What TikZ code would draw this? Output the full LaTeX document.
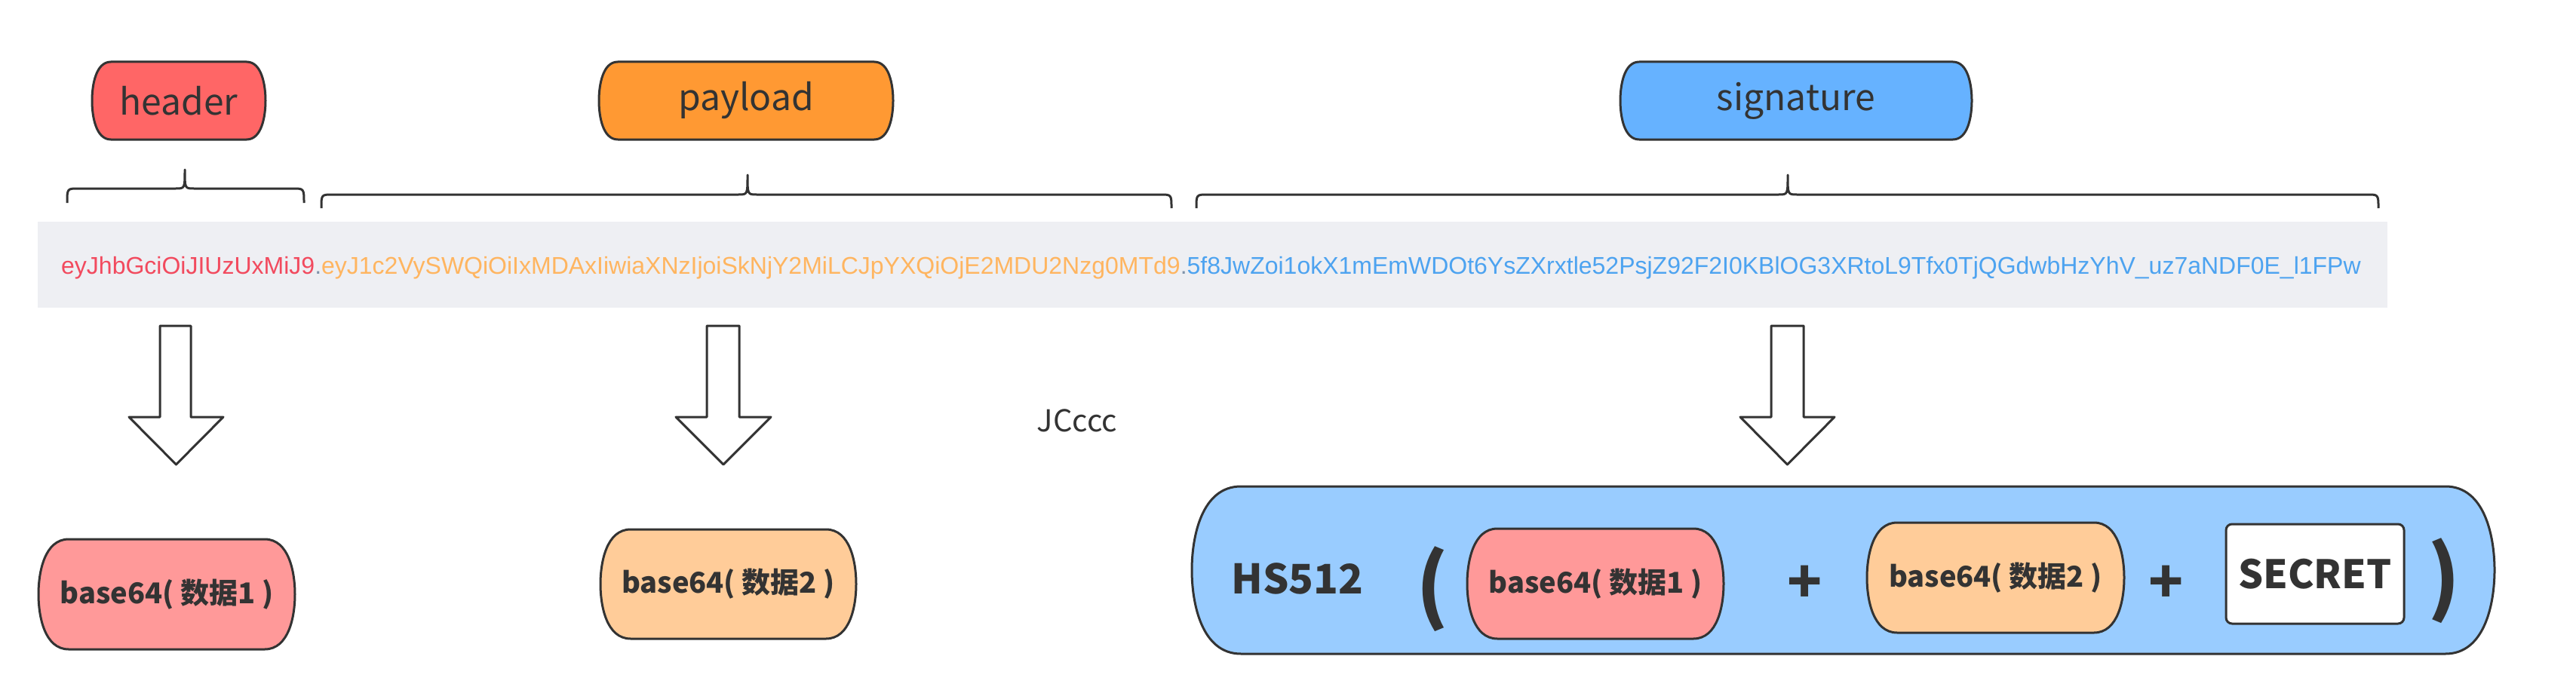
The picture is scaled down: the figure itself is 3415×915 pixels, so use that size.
\documentclass[tikz,border=0pt]{standalone}
\usepackage{fontspec}
\setmainfont{Liberation Sans}
\newfontfamily\cjk{Noto Sans CJK SC}
\usetikzlibrary{calc,backgrounds}
\definecolor{dk}{HTML}{333333}
\definecolor{bandc}{HTML}{EEEFF3}
\definecolor{tokred}{HTML}{F24A5E}
\definecolor{tokor}{HTML}{FFB560}
\definecolor{tokbl}{HTML}{4DA3F0}
\definecolor{dotc}{HTML}{7F93AA}
\definecolor{hdrc}{HTML}{FF6666}
\definecolor{payc}{HTML}{FF9933}
\definecolor{sigc}{HTML}{66B2FF}
\definecolor{pinkc}{HTML}{FF9999}
\definecolor{peachc}{HTML}{FFCC99}
\definecolor{bluec}{HTML}{99CCFF}
\tikzset{
  bline/.style={draw=dk, line width=3pt, line join=round},
  boxn/.style={outer sep=0pt, inner sep=0pt, text=dk},
  lbltext/.style={font=\cjk\fontsize{48}{56}\selectfont},
  btext/.style={font=\cjk\bfseries\fontsize{38}{44}\selectfont},
  bigtext/.style={font=\cjk\bfseries\fontsize{54}{60}\selectfont, text=dk},
}
\newcommand\barrel[3]{%
  \draw[bline,fill=#2] ([xshift=#3]#1.north west) -- ([xshift=-#3]#1.north east)
    .. controls ([xshift=-0.2*#3]#1.north east) and ($(#1.north east)!0.6!(#1.east)$) .. (#1.east)
    .. controls ($(#1.south east)!0.6!(#1.east)$) and ([xshift=-0.2*#3]#1.south east) .. ([xshift=-#3]#1.south east)
    -- ([xshift=#3]#1.south west)
    .. controls ([xshift=0.2*#3]#1.south west) and ($(#1.south west)!0.6!(#1.west)$) .. (#1.west)
    .. controls ($(#1.north west)!0.6!(#1.west)$) and ([xshift=0.2*#3]#1.north west) .. cycle;}
\newcommand\hollowarrow[4]{% shaft left, shaft right, head left, head right ; tip x = middle
  \draw[bline,fill=white] (#1,432) -- (#2,432) -- (#2,553) -- (#4,553)
    -- ({(#3+#4)/2},616) -- (#3,553) -- (#1,553) -- cycle;}
\begin{document}
\begin{tikzpicture}[x=1pt,y=-1pt]
\useasboundingbox (0,0) rectangle (3415,915);

% top labels
\node[boxn,lbltext,minimum width=230,minimum height=103] (hdr) at (237,133.5) {header};
\node[boxn,lbltext,minimum width=390,minimum height=103] (pay) at (989,133.5) {payload};
\node[boxn,lbltext,minimum width=466,minimum height=103] (sig) at (2381,133.5) {signature};

% token band
\node[boxn,fill=bandc,minimum width=3115,minimum height=114] (band) at (1607.5,351) {};
\node[anchor=base west,inner sep=0pt,font=\fontsize{32}{38}\selectfont] (tok) at (81,363)
  {\textcolor{tokred}{eyJhbGciOiJIUzUxMiJ9}\textcolor{dotc}{.}\textcolor{tokor}{eyJ1c2VySWQiOiIxMDAxIiwiaXNzIjoiSkNjY2MiLCJpYXQiOjE2MDU2Nzg0MTd9}\textcolor{dotc}{.}\textcolor{tokbl}{5f8JwZoi1okX1mEmWDOt6YsZXrxtle52PsjZ92F2I0KBlOG3XRtoL9Tfx0TjQGdwbHzYhV\_uz7aNDF0E\_l1FPw}};

% JCccc
\node[text=dk,font=\cjk\fontsize{40}{46}\selectfont] (jc) at (1428,558) {JCccc};

% bottom left boxes
\node[boxn,btext,minimum width=340,minimum height=146] (b1) at (221,788) {base64( 数据1 )};
\node[boxn,btext,minimum width=339,minimum height=145] (b2) at (965.5,774.5) {base64( 数据2 )};

% big signature formula
\node[boxn,minimum width=1727,minimum height=222] (hs) at (2443.5,756) {};
\node[bigtext] (hslbl) at (1720,767) {HS512};
\node[bigtext,font=\cjk\bfseries\fontsize{108}{110}\selectfont] (lp) at (1899,781) {(};
\node[boxn,btext,minimum width=340,minimum height=146] (ib1) at (2115,774) {base64( 数据1 )};
\node[bigtext,font=\cjk\bfseries\fontsize{76}{80}\selectfont] (pl1) at (2393,775) {+};
\node[boxn,btext,minimum width=341,minimum height=146] (ib2) at (2645.5,766) {base64( 数据2 )};
\node[bigtext,font=\cjk\bfseries\fontsize{76}{80}\selectfont] (pl2) at (2872,775) {+};
\node[boxn,draw=dk,line width=3pt,fill=white,rounded corners=8pt,minimum width=236,minimum height=132,
      font=\cjk\bfseries\fontsize{52}{58}\selectfont] (sec) at (3069,761) {SECRET};
\node[bigtext,font=\cjk\bfseries\fontsize{108}{110}\selectfont] (rp) at (3240,770) {)};

\begin{scope}[on background layer]
  \fill[white] (0,0) rectangle (3415,915);
  \barrel{hdr}{hdrc}{25}
  \barrel{pay}{payc}{25}
  \barrel{sig}{sigc}{25}
  \barrel{b1}{pinkc}{40}
  \barrel{b2}{peachc}{40}
  \barrel{hs}{bluec}{65}
  \barrel{ib1}{pinkc}{40}
  \barrel{ib2}{peachc}{40}
  % braces
  \draw[bline] (89,269) .. controls (89,250) .. (104,250) -- (233,250)
     .. controls (245,250) .. (245,225) .. controls (245,250) .. (257,250)
     -- (388,250) .. controls (403,250) .. (403,269);
  \draw[bline] (426,276) .. controls (426,258) .. (441,258) -- (979,258)
     .. controls (991,258) .. (991,232) .. controls (991,258) .. (1003,258)
     -- (1538,258) .. controls (1553,258) .. (1553,276);
  \draw[bline] (1586,276) .. controls (1586,258) .. (1601,258) -- (2358,258)
     .. controls (2370,258) .. (2370,232) .. controls (2370,258) .. (2382,258)
     -- (3138,258) .. controls (3153,258) .. (3153,276);
  % hollow arrows
  \hollowarrow{212}{253}{171}{296}
  \hollowarrow{937}{980}{896}{1022}
  \hollowarrow{2348}{2391}{2307}{2432}
\end{scope}
\end{tikzpicture}
\end{document}
